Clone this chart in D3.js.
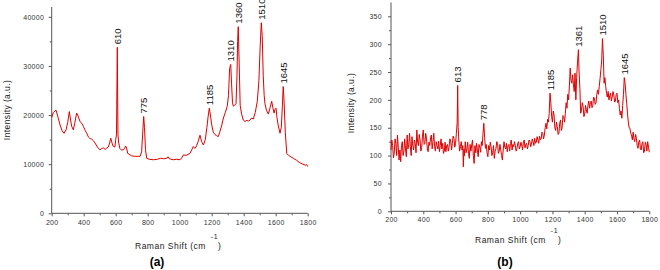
<!DOCTYPE html>
<html>
<head>
<meta charset="utf-8">
<script src="https://cdn.jsdelivr.net/npm/d3@7"></script>
<style>
  body { margin: 0; background: #fff; }
  text { font-family: "Liberation Sans", Arial, sans-serif; }
</style>
</head>
<body>
<div id="chart"></div>
<script>
// panel (a) spectrum
const ramanA = [
  200,210,227,240,252,265,277,290,300,310,
  318,325,335,345,356,365,377,390,398,410,
  419,430,440,450,460,471,485,502,512,523,
  535,545,554,562,569,577,585,595,600,605,
  610,614,618,626,635,648,655,662,668,675,
  689,700,720,740,752,762,768,775,780,786,
  794,810,835,860,880,900,919,927,935,960,
  980,1002,1015,1023,1040,1064,1075,1085,1095,1105,
  1115,1127,1137,1148,1160,1170,1178,1185,1192,1200,
  1210,1221,1231,1241,1250,1262,1273,1285,1297,1305,
  1312,1319,1324,1330,1335,1343,1352,1358,1362,1366,
  1372,1378,1387,1397,1408,1420,1430,1440,1450,1460,
  1472,1485,1495,1503,1510,1516,1522,1528,1533,1542,
  1554,1565,1575,1582,1590,1596,1602,1608,1615,1627,
  1635,1642,1647,1652,1660,1669,1680,1695,1710,1730,
  1750,1770,1785,1794,1800
];
const intensityA = [
  19500,20500,21000,19500,18000,16800,16300,17000,18500,20700,
  19000,17700,17000,18500,20400,19800,18700,18200,17700,16800,
  16300,15500,15200,15100,14800,14300,13500,12900,13200,13300,
  13000,13300,13500,14300,15300,14300,13600,13500,15000,16000,
  33800,16000,14500,13200,12900,12900,13200,13700,13300,12200,
  11900,11700,11600,11600,11600,12500,16000,19700,17500,13000,
  11200,11000,10900,11000,11200,11100,11200,11500,11100,10900,
  11000,10900,11400,11900,11800,12200,12900,13600,13200,13700,
  14600,15900,14600,13900,15000,17500,19800,21400,20000,18000,
  16500,16000,15800,15600,16500,17800,19400,20500,21800,24000,
  29500,30300,26500,22500,21800,22000,22300,28000,35000,38000,
  30000,22000,20200,19000,18700,18900,18800,19000,19400,19200,
  20500,22800,27000,34000,38800,36000,28000,24000,22300,21000,
  20200,21500,22800,21500,20400,21200,21400,19500,18000,16300,
  17500,22000,25800,23000,16500,12200,11800,11500,11200,10800,
  10300,10000,9800,9900,9500
];
const peaksA = [610, 775, 1185, 1310, 1360, 1510, 1645];
const yTicksA = [0, 10000, 20000, 30000, 40000];

// panel (b) spectrum, [raman shift, intensity]
const spectrumB = [
  [200,110],[205,128],[210,118],[215,96],[220,104],[225,130],[230,122],[235,100],[240,137],[245,115],
  [250,92],[255,110],[260,89],[265,118],[270,125],[275,100],[280,108],[285,130],[290,112],[295,98],
  [300,137],[305,112],[310,120],[315,140],[320,116],[325,100],[330,134],[335,118],[340,110],[345,128],
  [350,122],[355,105],[360,146],[365,124],[370,118],[375,138],[380,128],[385,108],[390,115],[395,135],
  [400,146],[405,120],[410,122],[415,140],[420,130],[425,112],[430,107],[435,124],[440,118],[445,132],
  [450,137],[455,112],[460,125],[465,140],[470,116],[475,108],[480,125],[485,118],[490,112],[495,126],
  [500,107],[505,118],[510,130],[515,112],[520,122],[525,104],[530,108],[535,124],[540,107],[545,118],
  [550,120],[555,108],[560,116],[565,130],[570,126],[575,110],[580,122],[585,135],[590,131],[595,115],
  [600,122],[605,140],[610,160],[613,226],[616,150],[620,128],[625,108],[630,116],[635,125],[640,110],
  [645,118],[648,80],[652,112],[655,100],[660,125],[665,105],[670,112],[675,124],[680,104],[685,95],
  [690,120],[695,108],[700,119],[705,128],[710,100],[715,86],[720,118],[725,105],[730,122],[735,110],
  [740,98],[745,120],[750,115],[755,106],[760,125],[765,118],[770,140],[775,158],[780,132],[785,113],
  [790,120],[795,105],[800,98],[805,118],[810,110],[815,124],[820,116],[825,100],[830,105],[835,118],
  [840,95],[845,108],[850,112],[855,125],[860,122],[865,104],[870,108],[875,120],[880,110],[885,100],
  [890,92],[895,110],[900,125],[905,115],[910,112],[915,122],[920,107],[925,118],[930,120],[935,108],
  [940,122],[945,128],[950,110],[955,120],[960,116],[965,125],[970,118],[975,108],[980,112],[985,122],
  [990,125],[995,112],[1000,116],[1005,124],[1010,119],[1015,110],[1020,124],[1025,128],[1030,114],[1035,120],
  [1040,122],[1045,112],[1050,118],[1055,128],[1060,126],[1065,116],[1070,120],[1075,130],[1080,125],[1085,118],
  [1090,131],[1095,122],[1100,124],[1105,134],[1110,128],[1115,122],[1120,135],[1125,128],[1130,130],[1135,142],
  [1140,140],[1145,130],[1150,137],[1155,150],[1160,158],[1165,148],[1170,165],[1175,160],[1180,176],[1185,212],
  [1190,195],[1195,170],[1200,160],[1205,180],[1210,173],[1215,150],[1220,145],[1225,160],[1230,152],[1235,138],
  [1240,140],[1245,158],[1250,164],[1255,145],[1260,150],[1265,172],[1270,170],[1275,160],[1280,176],[1285,195],
  [1290,185],[1295,210],[1300,200],[1305,225],[1310,257],[1315,235],[1320,230],[1325,245],[1330,228],[1335,215],
  [1340,248],[1345,200],[1350,240],[1355,266],[1361,290],[1365,250],[1370,220],[1375,176],[1380,182],[1385,195],
  [1390,188],[1395,170],[1400,175],[1405,190],[1410,182],[1415,176],[1420,190],[1425,198],[1430,185],[1435,195],
  [1440,198],[1445,186],[1450,190],[1455,205],[1460,203],[1465,192],[1470,195],[1475,210],[1480,218],[1485,210],
  [1490,224],[1495,238],[1500,254],[1505,270],[1510,310],[1515,280],[1520,230],[1525,240],[1530,224],[1535,212],
  [1540,205],[1545,215],[1550,200],[1555,208],[1560,212],[1565,198],[1570,205],[1575,215],[1580,209],[1585,196],
  [1590,198],[1595,210],[1600,212],[1605,195],[1610,200],[1615,185],[1620,173],[1625,180],[1630,167],[1635,190],
  [1640,210],[1645,240],[1650,230],[1655,210],[1660,194],[1665,175],[1670,160],[1675,150],[1680,149],[1685,140],
  [1690,137],[1695,128],[1700,142],[1705,130],[1710,125],[1715,138],[1720,131],[1725,118],[1730,113],[1735,125],
  [1740,128],[1745,112],[1750,110],[1755,122],[1760,125],[1765,105],[1770,108],[1775,124],[1780,120],[1785,108],
  [1790,125],[1795,115],[1800,106]
];
const peaksB = [613, 778, 1185, 1361, 1510, 1645];
const yTicksB = [0, 50, 100, 150, 200, 250, 300, 350];

const xTicks = [200, 400, 600, 800, 1000, 1200, 1400, 1600, 1800];

const svg = d3.select("#chart")
  .append("svg")
    .attr("width", 660)
    .attr("height", 270);

function drawPanel(cfg) {
  const x = d3.scaleLinear().domain([200, 1800]).range([cfg.left, cfg.right]);
  const y = d3.scaleLinear().domain([0, cfg.yMax]).range([cfg.bottom, cfg.top]);
  const g = svg.append("g");

  // minor ticks first so the axes sit on top
  g.append("g")
      .attr("transform", `translate(0 ${cfg.bottom})`)
    .call(d3.axisBottom(x).tickValues(d3.range(300, 1800, 200)).tickSize(2).tickFormat(""))
    .call(a => a.select(".domain").remove())
    .selectAll("line").attr("stroke", "#555");
  g.append("g")
      .attr("transform", `translate(${cfg.left} 0)`)
    .call(d3.axisLeft(y).tickValues(cfg.minor).tickSize(2).tickFormat(""))
    .call(a => a.select(".domain").remove())
    .selectAll("line").attr("stroke", "#555");

  const xAxis = g.append("g")
      .attr("transform", `translate(0 ${cfg.bottom})`)
    .call(d3.axisBottom(x).tickValues(xTicks).tickFormat(d3.format("d"))
      .tickSize(3).tickSizeOuter(0).tickPadding(cfg.xPad));
  const yAxis = g.append("g")
      .attr("transform", `translate(${cfg.left} 0)`)
    .call(d3.axisLeft(y).tickValues(cfg.yTicks).tickFormat(d3.format("d"))
      .tickSize(3).tickSizeOuter(0).tickPadding(cfg.yPad));
  [xAxis, yAxis].forEach(a => {
    a.select(".domain").remove();
    a.selectAll("line").attr("stroke", "#555");
    a.selectAll("text")
      .attr("font-family", "Liberation Sans, Arial, sans-serif")
      .attr("font-size", 7)
      .attr("letter-spacing", 0.3)
      .attr("fill", "#333");
  });
  yAxis.append("line")
      .attr("y1", y(cfg.yMax)).attr("y2", y(0))
      .attr("stroke", "#555");
  xAxis.append("line")
      .attr("x1", x(200)).attr("x2", x(1800))
      .attr("stroke", "#555");

  const pts = cfg.data;
  g.append("path")
    .datum(pts)
      .attr("fill", "none")
      .attr("stroke", "#e00000")
      .attr("stroke-width", 1)
      .attr("stroke-linejoin", "round")
      .attr("d", d3.line().x(d => x(d[0])).y(d => y(d[1])));

  // peak labels sit just above the local maximum
  cfg.peaks.forEach(p => {
    const near = pts.filter(d => Math.abs(d[0] - p) <= 10);
    const top = near.reduce((m, d) => d[1] > m[1] ? d : m, near[0]);
    g.append("text")
        .attr("transform", `translate(${x(top[0]) + 3.5} ${y(top[1]) - 3}) rotate(-90)`)
        .attr("font-size", 9.5)
        .attr("fill", "#111")
        .text(p);
  });

  // axis titles
  g.append("text")
      .attr("transform", `translate(${cfg.yTitleX} ${cfg.yTitleY}) rotate(-90)`)
      .attr("text-anchor", "middle")
      .attr("font-size", 8.5)
      .attr("letter-spacing", 0.4)
      .attr("fill", "#222")
      .text("Intensity (a.u.)");

  const xt = g.append("text")
      .attr("x", cfg.xTitleX)
      .attr("y", cfg.xTitleY)
      .attr("font-size", 8.5)
      .attr("letter-spacing", 0.5)
      .attr("fill", "#222");
  xt.append("tspan").text("Raman Shift (cm");
  xt.append("tspan").attr("dx", 5).attr("dy", -10).attr("font-size", 7).text("-1");
  xt.append("tspan").attr("dx", 0).attr("dy", 10).text(")");

  g.append("text")
      .attr("x", cfg.tagX)
      .attr("y", 266)
      .attr("text-anchor", "middle")
      .attr("font-family", "Liberation Serif, Times New Roman, serif")
      .attr("font-weight", "bold")
      .attr("font-size", 12)
      .attr("fill", "#000")
      .text(cfg.tag);
}

drawPanel({
  data: ramanA.map((v, i) => [v, intensityA[i]]), peaks: peaksA,
  yMax: 42000, yTicks: yTicksA, minor: d3.range(5000, 42000, 10000),
  left: 51.7, right: 307.7, top: 7, bottom: 213.3,
  xPad: 4, yPad: 4.5,
  yTitleX: 10, yTitleY: 110, xTitleX: 135, xTitleY: 249,
  tagX: 157, tag: "(a)"
});

drawPanel({
  data: spectrumB, peaks: peaksB,
  yMax: 375, yTicks: yTicksB, minor: d3.range(25, 375, 50),
  left: 391, right: 649.3, top: 2.4, bottom: 211.3,
  xPad: 3, yPad: 6,
  yTitleX: 354, yTitleY: 103, xTitleX: 475, xTitleY: 243,
  tagX: 505, tag: "(b)"
});
</script>
</body>
</html>
